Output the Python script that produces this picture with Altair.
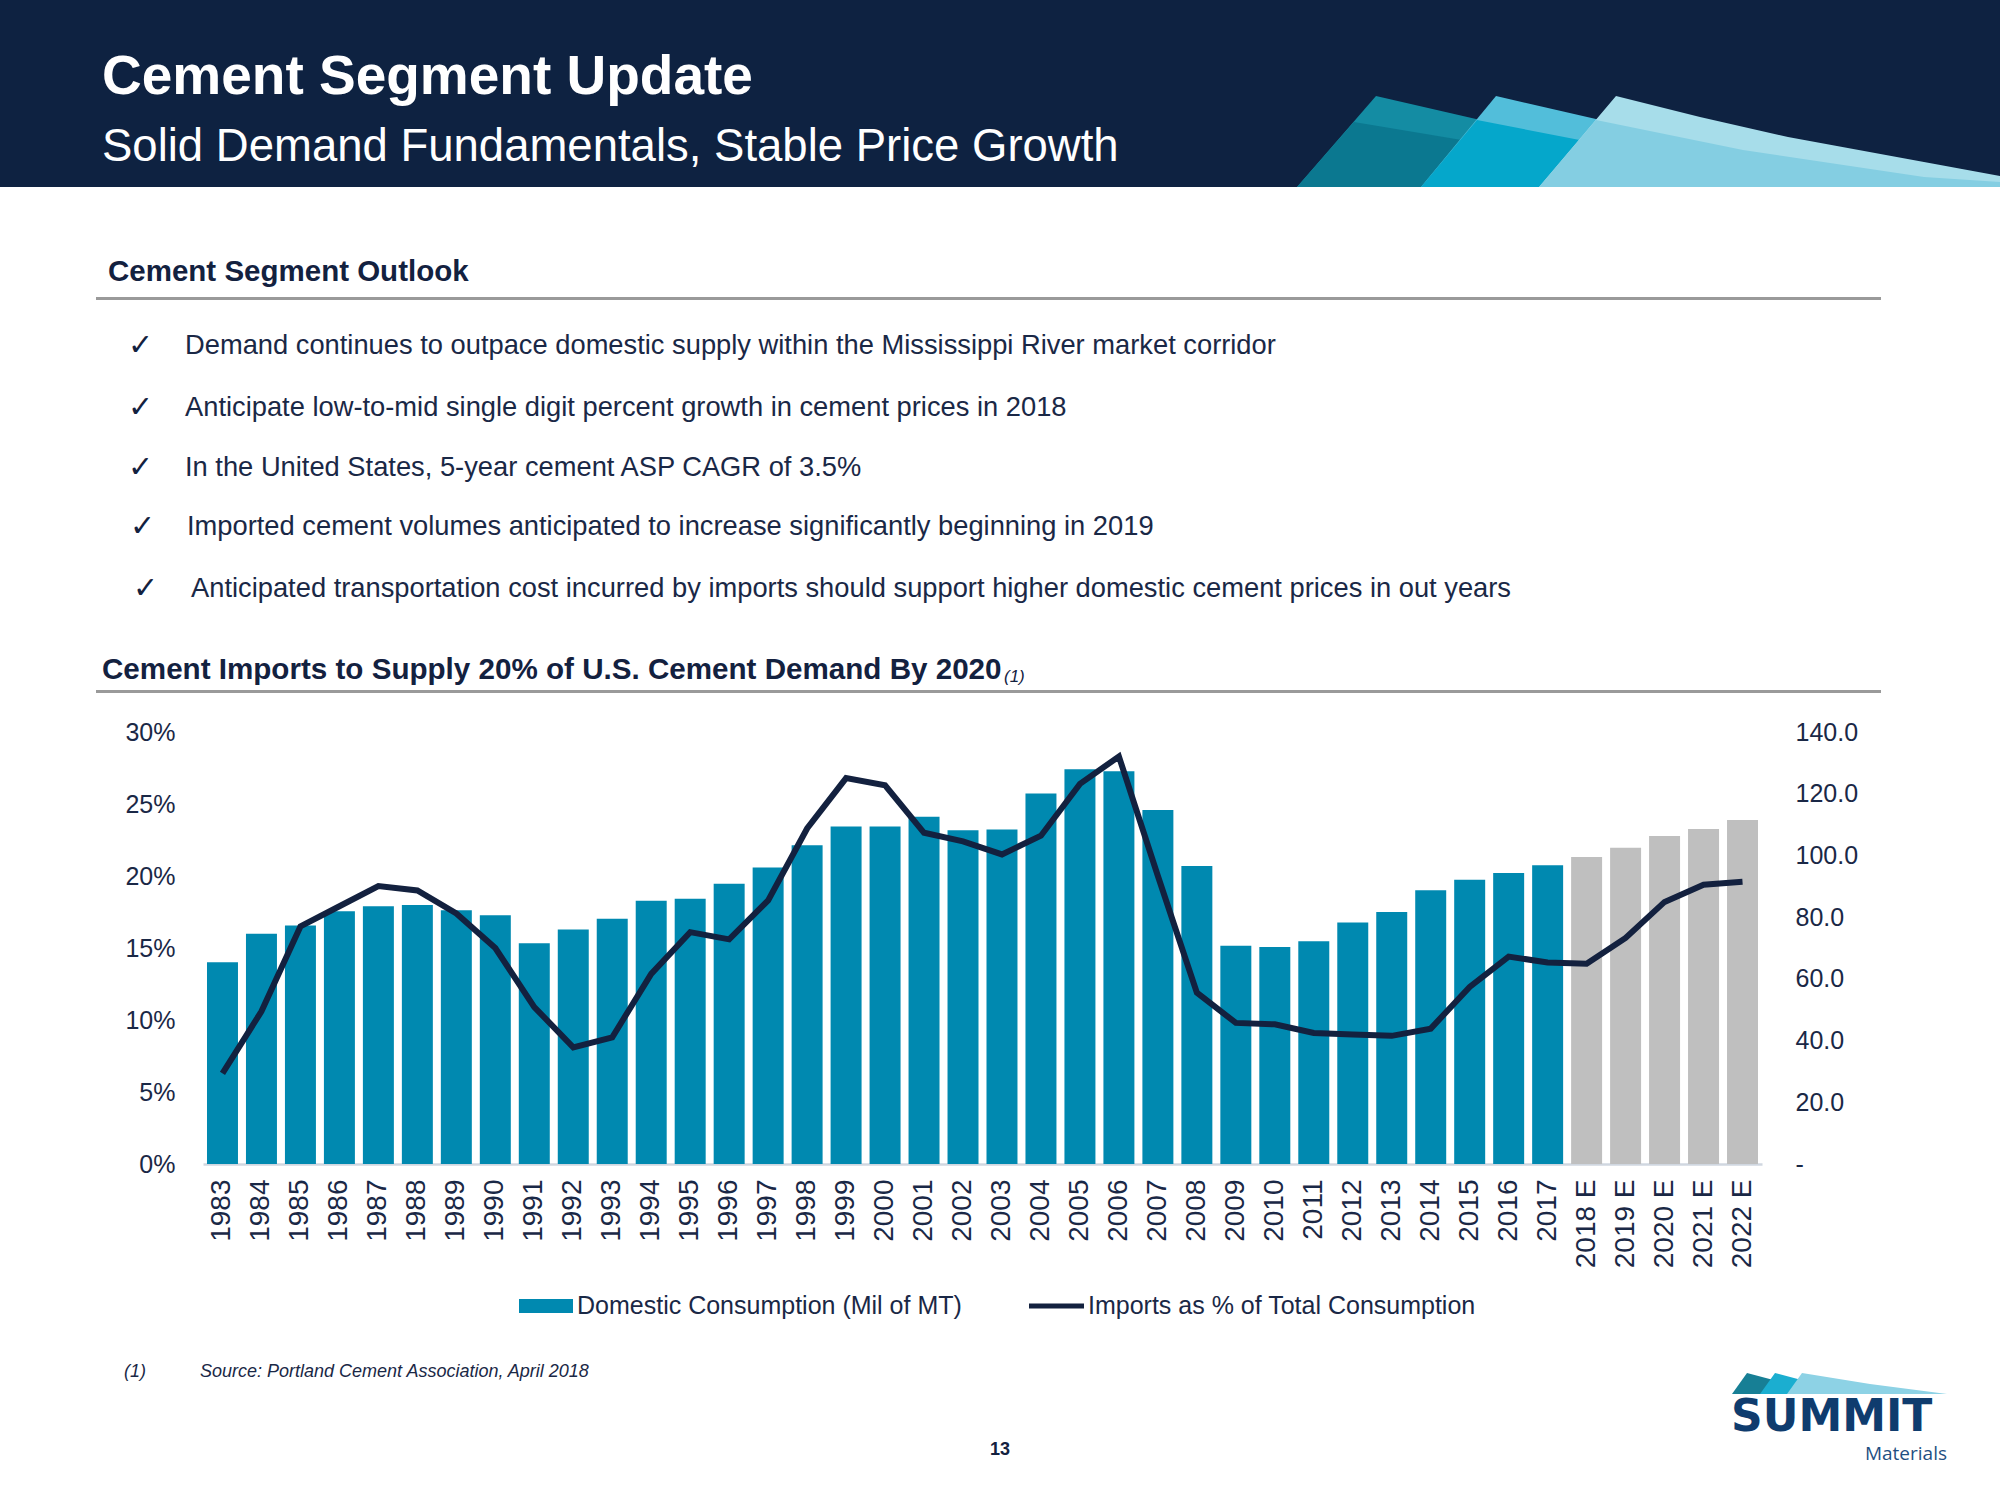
import altair as alt
import pandas as pd
from urllib.parse import quote

# ---------------- data ----------------
years = ["1983", "1984", "1985", "1986", "1987", "1988", "1989", "1990", "1991", "1992",
         "1993", "1994", "1995", "1996", "1997", "1998", "1999", "2000", "2001", "2002",
         "2003", "2004", "2005", "2006", "2007", "2008", "2009", "2010", "2011", "2012",
         "2013", "2014", "2015", "2016", "2017", "2018 E", "2019 E", "2020 E", "2021 E", "2022 E"]
consumption = [65.4, 74.6, 77.3, 81.9, 83.5, 83.9, 82.2, 80.6, 71.5, 76.0,
               79.5, 85.3, 86.0, 90.8, 96.1, 103.3, 109.4, 109.4, 112.5, 108.2,
               108.4, 120.1, 127.9, 127.3, 114.7, 96.6, 70.7, 70.3, 72.2, 78.3,
               81.7, 88.7, 92.1, 94.3, 96.8, 99.5, 102.5, 106.3, 108.6, 111.5]
imports_pct = [6.3, 10.6, 16.5, 17.9, 19.3, 19.0, 17.4, 15.0, 10.9, 8.1,
               8.8, 13.2, 16.1, 15.6, 18.3, 23.3, 26.8, 26.3, 23.0, 22.4,
               21.5, 22.8, 26.4, 28.3, 20.0, 11.9, 9.8, 9.7, 9.1, 9.0,
               8.9, 9.4, 12.3, 14.4, 14.0, 13.9, 15.7, 18.2, 19.4, 19.6]
kind = ["Estimate" if y.endswith("E") else "Actual" for y in years]

left_ticks = [0, 5, 10, 15, 20, 25, 30]
right_ticks = [0, 20, 40, 60, 80, 100, 120, 140]

title = "Cement Segment Update"
subtitle = "Solid Demand Fundamentals, Stable Price Growth"
outlook_heading = "Cement Segment Outlook"
bullets = [
    "Demand continues to outpace domestic supply within the Mississippi River market corridor",
    "Anticipate low-to-mid single digit percent growth in cement prices in 2018",
    "In the United States, 5-year cement ASP CAGR of 3.5%",
    "Imported cement volumes anticipated to increase significantly beginning in 2019",
    "Anticipated transportation cost incurred by imports should support higher domestic cement prices in out years",
]
chart_heading = "Cement Imports to Supply 20% of U.S. Cement Demand By 2020"
legend_bar = "Domestic Consumption (Mil of MT)"
legend_line = "Imports as % of Total Consumption"
footnote_mark = "(1)"
footnote_text = "Source:  Portland Cement Association, April 2018"
page_no = "13"

df = pd.DataFrame({"year": years, "consumption": consumption,
                   "imports": imports_pct, "kind": kind})

# ---------------- style ----------------
FONT = "Liberation Sans, Arial, sans-serif"
NAVY_BG = "#0E2241"
NAVY = "#13213F"
TEXT = "#1A2846"
TEAL = "#0089B0"
GRAY = "#BFBFBF"
RULE = "#9A9A9A"

X0, Y0 = 203, 732          # plot-area origin on the page
W, H = 1559, 432


def txt(text, x, y, size, color=TEXT, weight="normal", style="normal",
        align="left", baseline="alphabetic", font=FONT):
    return alt.Chart(alt.Data(values=[{}])).mark_text(
        text=text, fontSize=size, font=font, fontWeight=weight, fontStyle=style,
        color=color, align=align, baseline=baseline
    ).encode(x=alt.value(x - X0), y=alt.value(y - Y0))


def rect(x1, x2, y1, y2, color):
    return alt.Chart(alt.Data(values=[{}])).mark_rect(color=color).encode(
        x=alt.value(x1 - X0), x2=alt.value(x2 - X0),
        y=alt.value(y1 - Y0), y2=alt.value(y2 - Y0))


def hrule(x1, x2, y, color, width):
    return alt.Chart(alt.Data(values=[{}])).mark_rule(color=color, strokeWidth=width).encode(
        x=alt.value(x1 - X0), x2=alt.value(x2 - X0), y=alt.value(y - Y0))


def svg_image(svg, x, y, w, h):
    uri = "data:image/svg+xml;charset=utf-8," + quote(svg)
    return alt.Chart(alt.Data(values=[{}])).mark_image(
        width=w, height=h, aspect=False, align="left", baseline="top"
    ).encode(x=alt.value(x - X0), y=alt.value(y - Y0), url=alt.value(uri))


# decorative header waves
wave_svg = (
    '<svg xmlns="http://www.w3.org/2000/svg" width="710" height="100" viewBox="1290 90 710 100">'
    '<polygon points="1297,187 1376,96 1772,187" fill="#148CA3"/>'
    '<polygon points="1297,187 1354,122 1743,187" fill="#0B7890"/>'
    '<polygon points="1421,187 1496,96 1892,187" fill="#52BEDA"/>'
    '<polygon points="1421,187 1477,120 1822,187" fill="#05A7CB"/>'
    '<polygon points="1539,187 1616,96 1700,117 1788,137 1924,162 2000,176 2000,187" fill="#A7DDEA"/>'
    '<polygon points="1539,187 1596,120 1743,150 1924,177 2000,182 2000,187" fill="#84CEE2"/>'
    '</svg>'
)
logo_svg = (
    '<svg xmlns="http://www.w3.org/2000/svg" width="222" height="26" viewBox="1728 1370 222 26">'
    '<polygon points="1732,1394 1747,1373 1826,1394" fill="#177F95"/>'
    '<polygon points="1760,1394 1775,1373 1854,1394" fill="#1BAED0"/>'
    '<polygon points="1787,1394 1802,1373 1870,1384 1947,1394" fill="#8DD2E5"/>'
    '</svg>'
)

# ---------------- chart ----------------
base = alt.Chart(df)
xenc = alt.X(
    "year:N", sort=None,
    scale=alt.Scale(paddingInner=0.205, paddingOuter=0.1025),
    axis=alt.Axis(title=None, labelAngle=-90, labelFont=FONT, labelFontSize=28,
                  labelColor=TEXT, labelPadding=15, ticks=False, domain=True,
                  domainColor="#D0D7E0", domainWidth=2.5, grid=False, labelOverlap=False),
)

bars = base.mark_bar().encode(
    x=xenc,
    y=alt.Y("consumption:Q", scale=alt.Scale(domain=[0, 140], nice=False),
            axis=alt.Axis(orient="right", values=right_ticks, title=None, grid=False,
                          domain=False, ticks=False, labelPadding=33,
                          labelFont=FONT, labelFontSize=25, labelColor=TEXT,
                          labelExpr="datum.value == 0 ? '-' : format(datum.value, '.1f')")),
    color=alt.Color("kind:N", scale=alt.Scale(domain=["Actual", "Estimate"], range=[TEAL, GRAY]),
                    legend=None),
)

line = base.mark_line(color=NAVY, strokeWidth=6, strokeJoin="miter").encode(
    x=xenc,
    y=alt.Y("imports:Q", scale=alt.Scale(domain=[0, 30], nice=False),
            axis=alt.Axis(orient="left", values=left_ticks, title=None, grid=False,
                          domain=False, ticks=False, labelPadding=28,
                          labelFont=FONT, labelFontSize=25, labelColor=TEXT,
                          labelExpr="datum.value + '%'")),
)

layers = [bars, line]

# header
layers.append(rect(0, 2000, 0, 187, NAVY_BG))
layers.append(svg_image(wave_svg, 1290, 90, 710, 100))
layers.append(txt(title, 102, 94, 55, color="white", weight="bold"))
layers.append(txt(subtitle, 102, 161, 45.5, color="white"))

# outlook
layers.append(txt(outlook_heading, 108, 281, 29.5, color=NAVY, weight="bold"))
layers.append(hrule(96, 1881, 298.5, RULE, 3))
bullet_y = [346, 408, 468, 527, 589]
check_x = [128, 128, 128, 130, 133]
text_x = [185, 185, 185, 187, 191]
for b, yy, cx, tx in zip(bullets, bullet_y, check_x, text_x):
    layers.append(txt("\u2713", cx, yy, 30, color=NAVY, baseline="middle", font="DejaVu Sans"))
    layers.append(txt(b, tx, yy, 27.3, color=TEXT, baseline="middle"))

# chart heading
layers.append(txt(chart_heading, 102, 679, 29.6, color=NAVY, weight="bold"))
layers.append(txt(footnote_mark, 1004, 682, 17, color=NAVY, style="italic"))
layers.append(hrule(96, 1881, 691.5, RULE, 3))

# legend
layers.append(rect(519, 573, 1299, 1313, TEAL))
layers.append(txt(legend_bar, 577, 1306, 25, color=TEXT, baseline="middle"))
layers.append(hrule(1029, 1084, 1306, NAVY, 5))
layers.append(txt(legend_line, 1088, 1306, 25, color=TEXT, baseline="middle"))

# footnote & page number
layers.append(txt(footnote_mark, 124, 1372, 18, color=TEXT, style="italic", baseline="middle"))
layers.append(txt(footnote_text, 200, 1372, 18, color=TEXT, style="italic", baseline="middle"))
layers.append(txt(page_no, 1000, 1450, 18, color=NAVY, weight="bold", align="center", baseline="middle"))

# logo
layers.append(svg_image(logo_svg, 1728, 1370, 222, 26))
layers.append(txt("SUMMIT", 1731, 1431, 44, color="#0F3C6E", weight="bold", font="DejaVu Sans"))
layers.append(txt("Materials", 1947, 1460, 19, color="#1F4F82", align="right", font="Open Sans"))

chart = alt.layer(*layers).resolve_scale(y="independent").properties(
    width=W, height=H,
    padding={"left": X0, "top": Y0, "right": 2000 - X0 - W, "bottom": 1500 - Y0 - H},
    autosize=alt.AutoSizeParams(type="none"),
).configure(background="white").configure_view(stroke=None)

chart.save("out.html", embed_options={"renderer": "svg", "actions": False})
